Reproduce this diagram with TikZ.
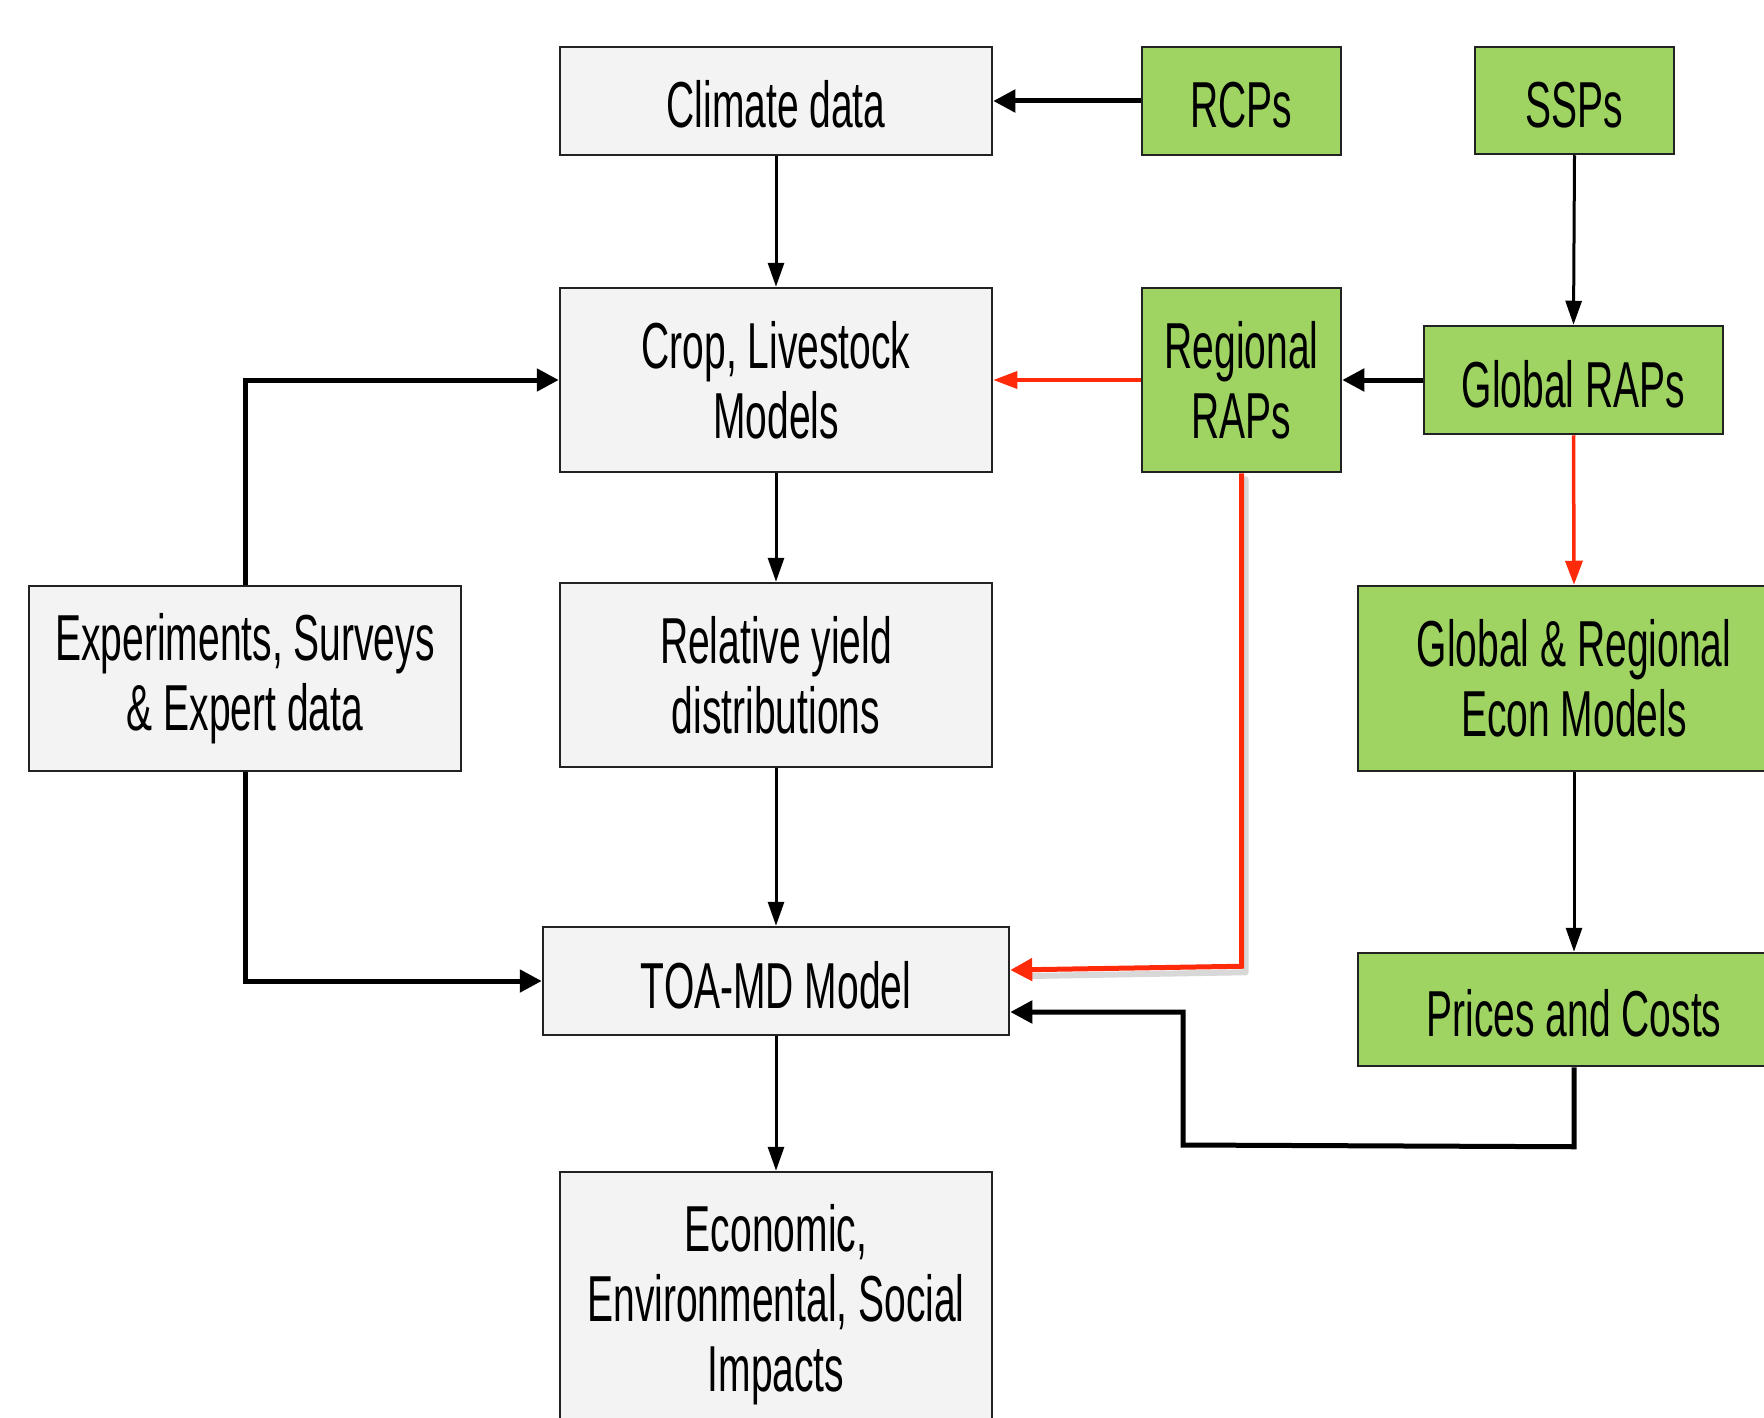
\documentclass[tikz,border=0pt]{standalone}
\usepackage{fontspec}
\setmainfont[FakeStretch=0.6]{Liberation Sans}
\usetikzlibrary{arrows.meta,calc}
\definecolor{boxgray}{HTML}{F3F3F3}
\definecolor{boxgreen}{HTML}{A0D462}
\definecolor{linered}{HTML}{FF2A0A}
\definecolor{bordercol}{HTML}{222222}
\tikzset{
  graybox/.style={draw=bordercol, line width=2.5pt, fill=boxgray, align=center, inner sep=0pt,
    font=\fontsize{65}{70}\selectfont},
  greenbox/.style={graybox, fill=boxgreen},
  oneline/.style={text height=60pt, text depth=6pt},
  thin arrow/.style={draw=black, line width=3pt, -{Triangle[length=24pt,width=16pt]}},
  thick arrow/.style={draw=black, line width=5pt, -{Triangle[length=22pt,width=22pt]}},
  red arrow/.style={draw=linered, line width=3.5pt, -{Triangle[length=24pt,width=17pt]}},
}
\begin{document}
\begin{tikzpicture}[x=1pt,y=-1pt]
\useasboundingbox (0,0) rectangle (1764,1418);
\clip (0,0) rectangle (1764,1418);
\fill[white] (0,0) rectangle (1764,1418);
% nodes
\node[graybox, oneline, minimum width=432pt, minimum height=108pt] (climate) at (776,101) {Climate data};
\node[greenbox, oneline, minimum width=199pt, minimum height=108pt] (rcps) at (1241.5,101) {RCPs};
\node[greenbox, oneline, minimum width=199pt, minimum height=107pt] (ssps) at (1574.5,100.5) {SSPs};
\node[graybox, minimum width=432pt, minimum height=184pt] (crop) at (776,380) {Crop, Livestock\\Models};
\node[greenbox, minimum width=199pt, minimum height=184pt] (regional) at (1241.5,380) {Regional\\RAPs};
\node[greenbox, oneline, minimum width=299pt, minimum height=108pt] (grap) at (1573.5,380) {Global RAPs};
\node[graybox, minimum width=432pt, minimum height=185pt] (exper) at (245,678.5) {Experiments, Surveys\\\& Expert data};
\node[graybox, minimum width=432pt, minimum height=184pt] (rel) at (776,675) {Relative yield\\distributions};
\node[greenbox, minimum width=432pt, minimum height=185pt] (econ) at (1574,678.5) {Global \& Regional\\Econ Models};
\node[graybox, oneline, minimum width=466pt, minimum height=108pt] (toa) at (776,981) {TOA-MD Model};
\node[greenbox, oneline, minimum width=432pt, minimum height=113pt] (prices) at (1574,1009.5) {Prices and Costs};
\node[graybox, minimum width=432pt, minimum height=266pt] (impacts) at (776,1305) {Economic,\\Environmental, Social\\Impacts};
% connectors
\draw[thick arrow] (rcps.west) -- (climate.east);
\draw[thin arrow] (climate.south) -- (crop.north);
\draw[thin arrow] (ssps.south) -- (grap.north);
\draw[red arrow] (regional.west) -- (crop.east);
\draw[thick arrow] (grap.west) -- (regional.east);
\draw[red arrow] (grap.south) -- (econ.north);
\draw[thin arrow] (crop.south) -- (rel.north);
\draw[thick arrow] (exper.north) |- (crop.west);
\draw[thick arrow] (exper.south) |- (toa.west);
\draw[thin arrow] (rel.south) -- (toa.north);
\coordinate (redturn) at ($(regional.south)+(0,493)$);
\draw[line width=6pt, black!25, line cap=round, line join=round, opacity=0.6] ($(regional.south)+(4,6)$) -- ($(redturn)+(4,6)$) -- ($(toa.east)+(20,-5)$);
\draw[red arrow, line width=5pt, -{Triangle[length=22pt,width=22pt]}] (regional.south) -- (redturn) -- ($(toa.east)+(0,-11)$);
\draw[thin arrow] (econ.south) -- (prices.north);
\coordinate (pc1) at ($(prices.south)+(0,79.5)$);
\coordinate (pc2) at (1183,1145);
\coordinate (pc3) at (1183,1012);
\draw[thick arrow] (prices.south) -- (pc1) -- (pc2) -- (pc3) -- (toa.east |- pc3);
\draw[thin arrow] (toa.south) -- (impacts.north);
\end{tikzpicture}
\end{document}
